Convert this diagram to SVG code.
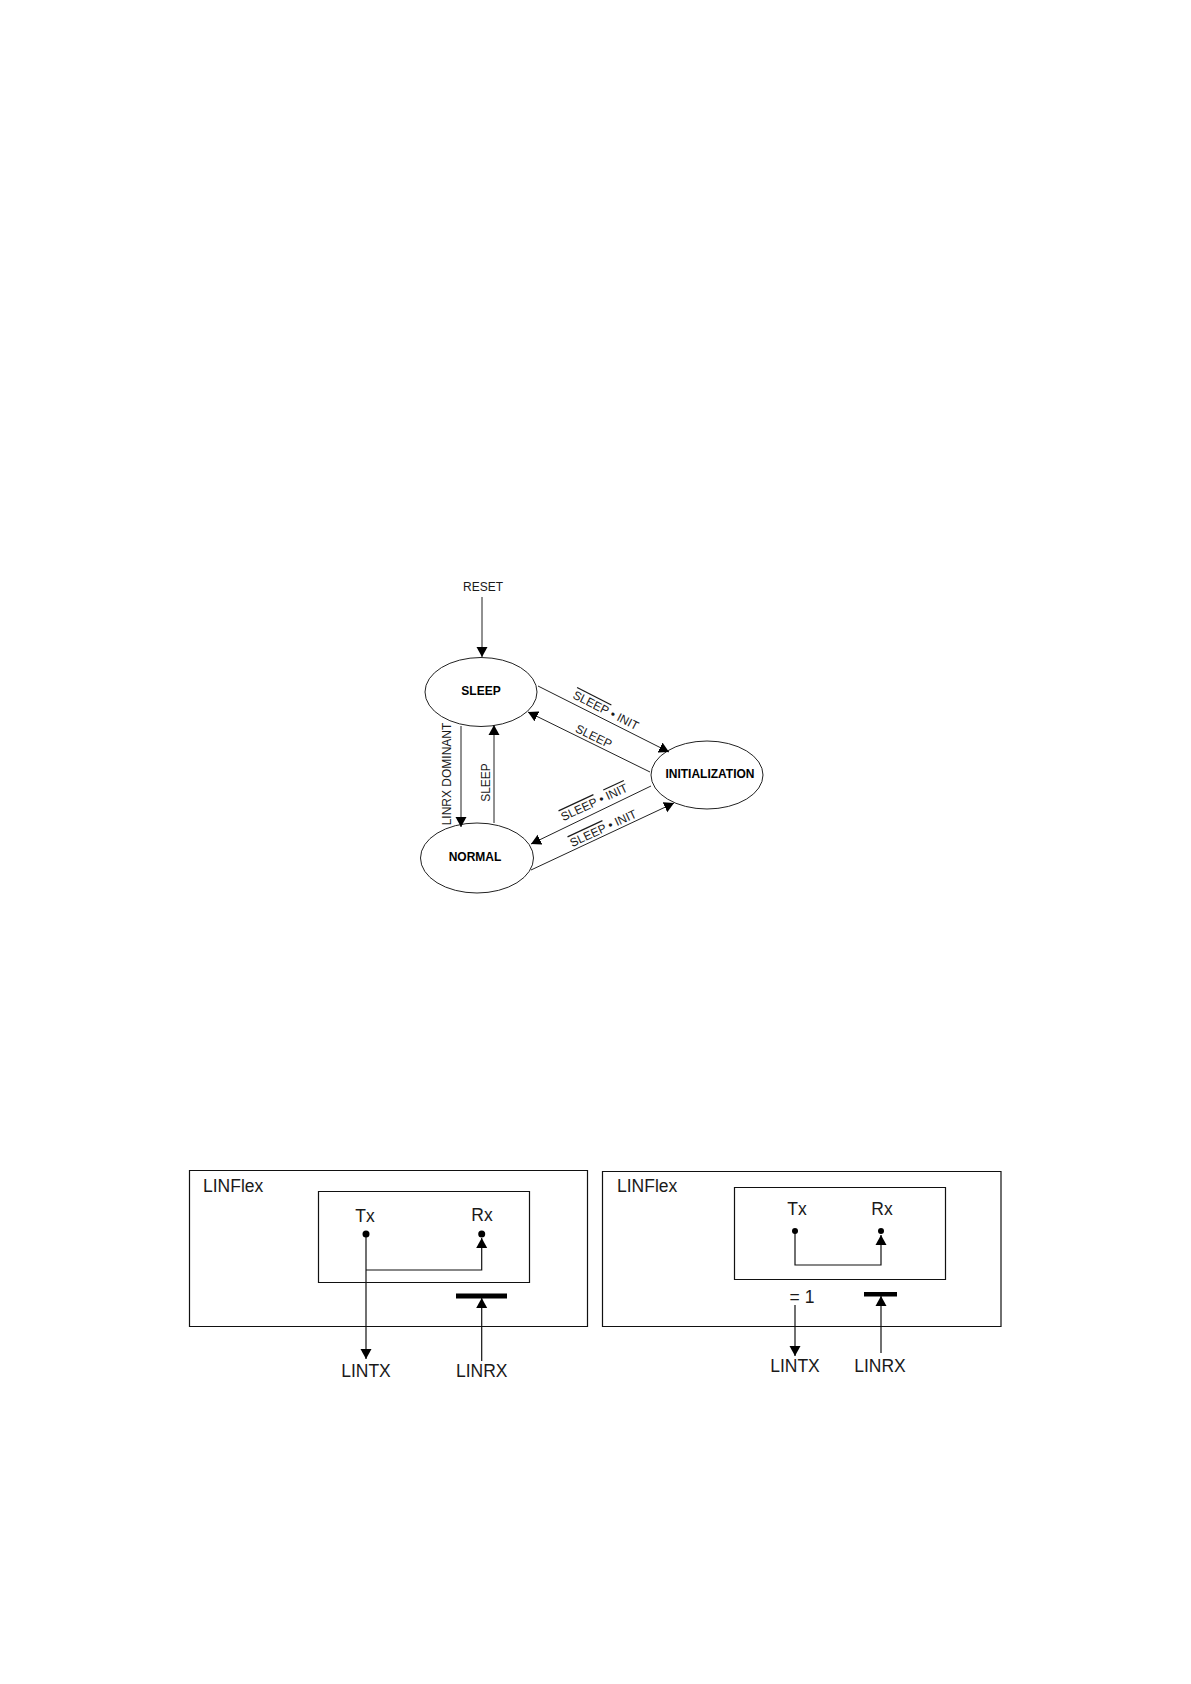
<svg xmlns="http://www.w3.org/2000/svg" width="1191" height="1684" viewBox="0 0 1191 1684">
<style>
text{font-family:"Liberation Sans",Arial,sans-serif;fill:#1a1a1a}
.s{font-size:12px}.b{font-size:12px;font-weight:bold;fill:#000}.l{font-size:17.5px}
.m{text-anchor:middle}
.n{fill:#fff;stroke:#222;stroke-width:1}
.c{fill:none;stroke:#222;stroke-width:1}
.k{fill:none;stroke:#111;stroke-width:1.2}
.o{text-decoration:overline}
</style>
<defs>
<marker id="a" markerUnits="userSpaceOnUse" markerWidth="12" markerHeight="12" refX="10" refY="6" orient="auto"><path d="M0 0.500L10 6L0 11.500Z" fill="#000"/></marker>
</defs>
<rect width="1191" height="1684" fill="#fff"/>
<g id="sleep"><ellipse class="n" cx="481" cy="692" rx="56" ry="34.5"/><text class="b m" x="481" y="695">SLEEP</text></g>
<g id="normal"><ellipse class="n" cx="477" cy="858" rx="56.5" ry="35"/><text class="b m" x="475" y="861">NORMAL</text></g>
<g id="initialization"><ellipse class="n" cx="707" cy="775" rx="56" ry="34"/><text class="b m" x="710" y="778">INITIALIZATION</text></g>
<g id="connectors">
<path class="c" marker-end="url(#a)" d="M482 597V657"/>
<path class="c" marker-end="url(#a)" d="M538 686L669 752"/>
<path class="c" marker-end="url(#a)" d="M650 772L528 712"/>
<path class="c" marker-end="url(#a)" d="M651 786L531 844"/>
<path class="c" marker-end="url(#a)" d="M531 870L674 803"/>
<path class="c" marker-end="url(#a)" d="M461 726V827"/>
<path class="c" marker-end="url(#a)" d="M494 823V725"/>
<path class="k" marker-end="url(#a)" d="M366 1234V1359"/>
<path class="k" marker-end="url(#a)" d="M366 1270H481.700V1238"/>
<path class="k" marker-end="url(#a)" d="M481.700 1361V1298"/>
<path class="k" marker-end="url(#a)" d="M795 1231V1265H881V1235"/>
<path class="k" marker-end="url(#a)" d="M795 1305V1356"/>
<path class="k" marker-end="url(#a)" d="M881 1353V1296"/>
</g>
<g id="edge-labels">
<text class="s m" x="483" y="591">RESET</text>
<text class="s m" transform="translate(451 774) rotate(-90)">LINRX DOMINANT</text>
<text class="s m" transform="translate(490 782.500) rotate(-90)">SLEEP</text>
<text class="s m" transform="translate(592 740) rotate(26)">SLEEP</text>
<text class="s m" transform="translate(604 714) rotate(27)"><tspan class="o">SLEEP</tspan> • INIT</text>
<text class="s m" transform="translate(596 806) rotate(-25)"><tspan class="o">SLEEP</tspan> • <tspan class="o">INIT</tspan></text>
<text class="s m" transform="translate(605 832) rotate(-25)"><tspan class="o">SLEEP</tspan> • INIT</text>
</g>
<g id="linflex-left">
<path class="k" d="M189.500 1170.500H587.500V1326.500H189.500Z"/>
<text class="l" x="203" y="1192">LINFlex</text>
</g>
<g id="inner-left">
<path class="k" d="M318.500 1191.500H529.500V1282.500H318.500Z"/>
<text class="l m" x="365" y="1222">Tx</text><text class="l m" x="482" y="1221">Rx</text>
<circle cx="366" cy="1234" r="3.500"/><circle cx="481.700" cy="1234" r="3.500"/>
</g>
<g id="bar-left"><rect x="456" y="1293.500" width="51" height="5"/></g>
<g id="pins-left"><text class="l m" x="366" y="1377">LINTX</text><text class="l m" x="481.700" y="1377">LINRX</text></g>
<g id="linflex-right">
<path class="k" d="M602.500 1171.500H1001V1326.500H602.500Z"/>
<text class="l" x="617" y="1192">LINFlex</text>
<text class="l m" x="802" y="1303">= 1</text>
</g>
<g id="inner-right">
<path class="k" d="M734.500 1187.500H945.500V1279.500H734.500Z"/>
<text class="l m" x="797" y="1215">Tx</text><text class="l m" x="882" y="1215">Rx</text>
<circle cx="795" cy="1231" r="3"/><circle cx="881" cy="1231" r="3"/>
</g>
<g id="bar-right"><rect x="864" y="1292" width="33" height="4.500"/></g>
<g id="pins-right"><text class="l m" x="795" y="1372">LINTX</text><text class="l m" x="880" y="1372">LINRX</text></g>
</svg>
